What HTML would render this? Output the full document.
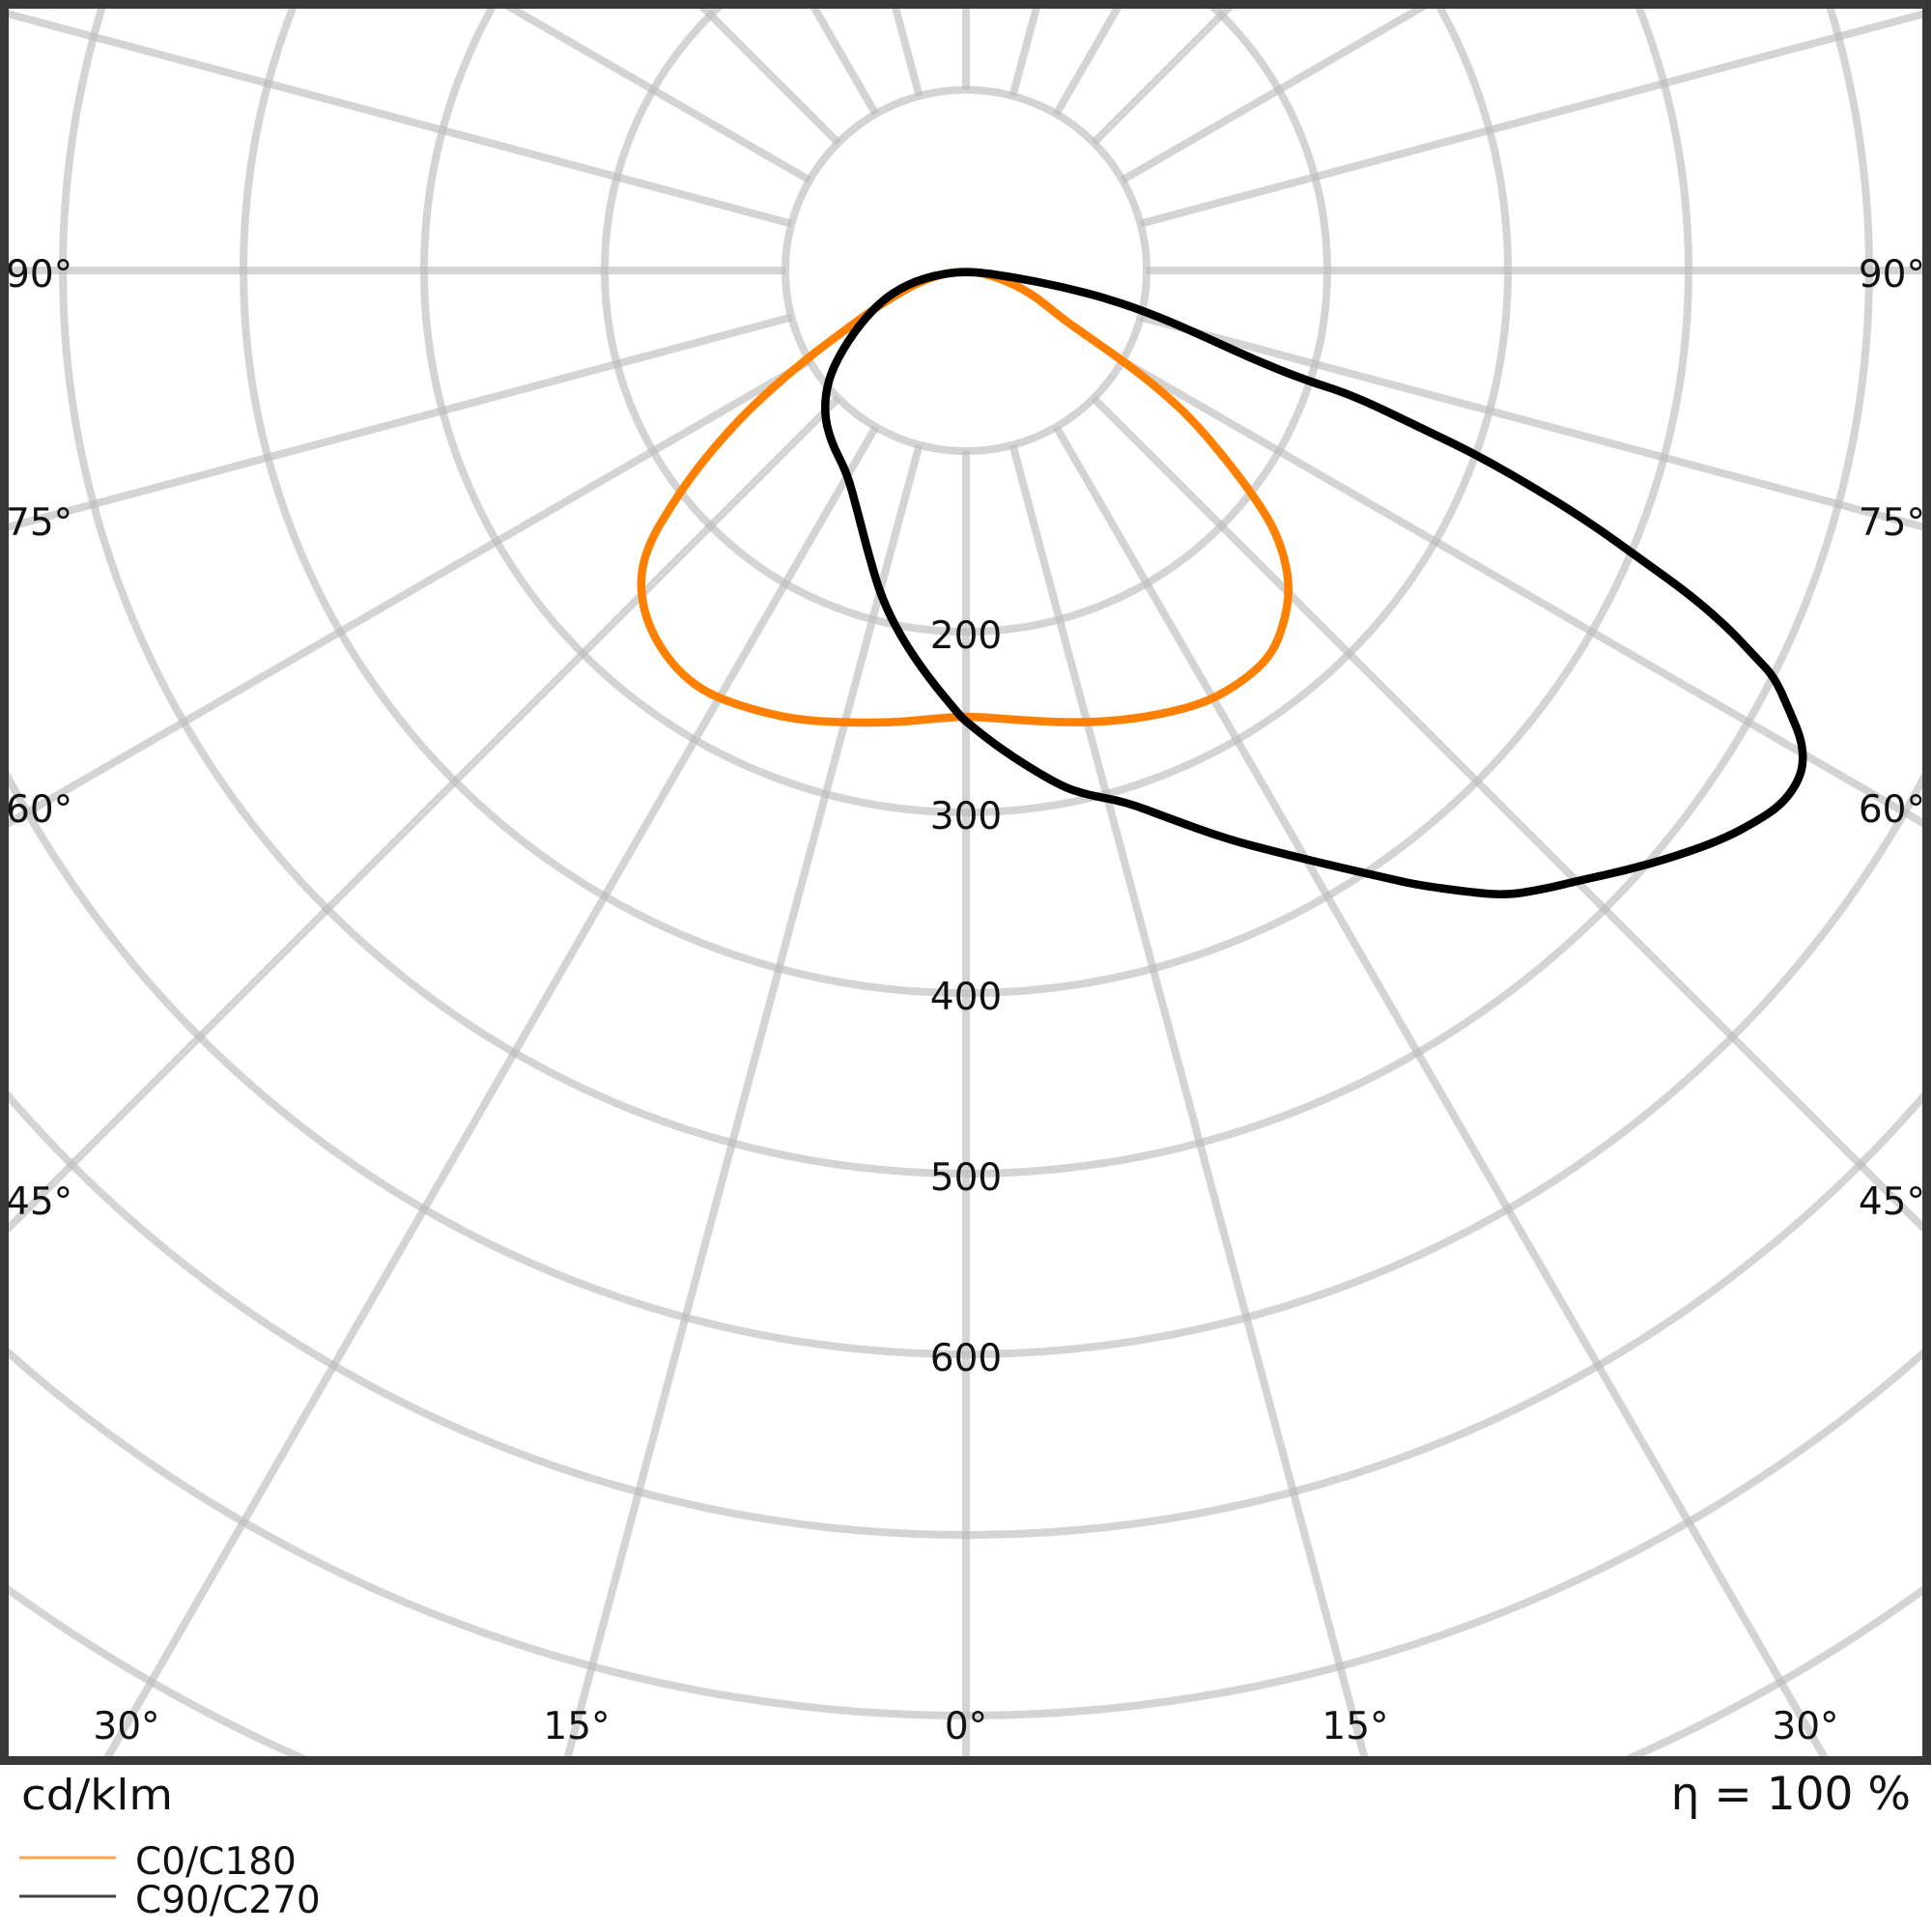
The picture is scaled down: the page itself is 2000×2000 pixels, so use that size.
<!DOCTYPE html>
<html>
<head>
<meta charset="utf-8">
<style>
  html, body { margin: 0; padding: 0; background: #ffffff; width: 2000px; height: 2000px; overflow: hidden; }
  svg { display: block; }
  text { font-family: "DejaVu Sans", "Liberation Sans", sans-serif; fill: #111111; }
</style>
</head>
<body>
<svg width="2000" height="2000" viewBox="0 0 2000 2000" xmlns="http://www.w3.org/2000/svg">
  <defs>
    <clipPath id="plotclip">
      <rect x="9" y="9" width="1981" height="1809"/>
    </clipPath>
  </defs>
  <rect x="0" y="0" width="2000" height="2000" fill="#ffffff"/>

  <g clip-path="url(#plotclip)">
    <!-- grid rings -->
    <g fill="none" stroke="rgb(190,190,190)" stroke-opacity="0.66" stroke-width="8">
      <circle cx="1000" cy="280" r="187"/>
      <circle cx="1000" cy="280" r="374"/>
      <circle cx="1000" cy="280" r="561"/>
      <circle cx="1000" cy="280" r="748"/>
      <circle cx="1000" cy="280" r="935"/>
      <circle cx="1000" cy="280" r="1122"/>
      <circle cx="1000" cy="280" r="1309"/>
      <circle cx="1000" cy="280" r="1496"/>
      <path d="M 5,1643 A 1683 1683 0 0 0 317,1822"/>
      <path d="M 1683,1822 A 1683 1683 0 0 0 1995,1643"/>
    </g>
    <!-- radial lines -->
    <g stroke="rgb(190,190,190)" stroke-opacity="0.66" stroke-width="8">
      <line x1="1000" y1="467" x2="1000" y2="1826" transform="rotate(0 1000 280)"/>
      <line x1="1000" y1="467" x2="1000" y2="1880" transform="rotate(15 1000 280)"/>
      <line x1="1000" y1="467" x2="1000" y2="2064" transform="rotate(30 1000 280)"/>
      <line x1="1000" y1="467" x2="1000" y2="1700" transform="rotate(45 1000 280)"/>
      <line x1="1000" y1="467" x2="1000" y2="1440" transform="rotate(60 1000 280)"/>
      <line x1="1000" y1="467" x2="1000" y2="1320" transform="rotate(75 1000 280)"/>
      <line x1="1000" y1="467" x2="1000" y2="1284" transform="rotate(90 1000 280)"/>
      <line x1="1000" y1="467" x2="1000" y2="1320" transform="rotate(105 1000 280)"/>
      <line x1="1000" y1="467" x2="1000" y2="845" transform="rotate(120 1000 280)"/>
      <line x1="1000" y1="467" x2="1000" y2="680" transform="rotate(135 1000 280)"/>
      <line x1="1000" y1="467" x2="1000" y2="608" transform="rotate(150 1000 280)"/>
      <line x1="1000" y1="467" x2="1000" y2="575" transform="rotate(165 1000 280)"/>
      <line x1="1000" y1="467" x2="1000" y2="565" transform="rotate(180 1000 280)"/>
      <line x1="1000" y1="467" x2="1000" y2="575" transform="rotate(195 1000 280)"/>
      <line x1="1000" y1="467" x2="1000" y2="608" transform="rotate(210 1000 280)"/>
      <line x1="1000" y1="467" x2="1000" y2="680" transform="rotate(225 1000 280)"/>
      <line x1="1000" y1="467" x2="1000" y2="845" transform="rotate(240 1000 280)"/>
      <line x1="1000" y1="467" x2="1000" y2="1320" transform="rotate(255 1000 280)"/>
      <line x1="1000" y1="467" x2="1000" y2="1284" transform="rotate(270 1000 280)"/>
      <line x1="1000" y1="467" x2="1000" y2="1320" transform="rotate(285 1000 280)"/>
      <line x1="1000" y1="467" x2="1000" y2="1440" transform="rotate(300 1000 280)"/>
      <line x1="1000" y1="467" x2="1000" y2="1700" transform="rotate(315 1000 280)"/>
      <line x1="1000" y1="467" x2="1000" y2="2064" transform="rotate(330 1000 280)"/>
      <line x1="1000" y1="467" x2="1000" y2="1880" transform="rotate(345 1000 280)"/>
    </g>

    <!-- ring value labels -->
    <g font-size="39" text-anchor="middle">
      <text x="1000" y="671">200</text>
      <text x="1000" y="858">300</text>
      <text x="1000" y="1045">400</text>
      <text x="1000" y="1232">500</text>
      <text x="1000" y="1419">600</text>
    </g>

    <!-- angle labels -->
    <g font-size="39">
      <text x="6" y="297">90°</text>
      <text x="6" y="554">75°</text>
      <text x="6" y="851">60°</text>
      <text x="6" y="1257">45°</text>
      <text x="1993" y="297" text-anchor="end">90°</text>
      <text x="1993" y="554" text-anchor="end">75°</text>
      <text x="1993" y="851" text-anchor="end">60°</text>
      <text x="1993" y="1257" text-anchor="end">45°</text>
      <text x="131" y="1800" text-anchor="middle">30°</text>
      <text x="597" y="1800" text-anchor="middle">15°</text>
      <text x="1000" y="1800" text-anchor="middle">0°</text>
      <text x="1403" y="1800" text-anchor="middle">15°</text>
      <text x="1869" y="1800" text-anchor="middle">30°</text>
    </g>

    <!-- C0/C180 orange -->
    <path fill="none" stroke="#ff8000" stroke-width="8.5" stroke-linejoin="round" stroke-linecap="round"
      d="M 978.5,283.5 Q 957,288 932,303 Q 907,318 890,330.5 Q 873,343 853,358 Q 833,373 811.5,391.5 Q 790,410 773.5,426.5 Q 757,443 740,463 Q 723,483 710,501.5 Q 697,520 685,540 Q 673,560 668,576.5 Q 663,593 664,610 Q 665,627 671,643.5 Q 677,660 688.5,676.5 Q 700,693 715,705 Q 730,717 751.5,725 Q 773,733 798,739 Q 823,745 848,746.5 Q 873,748 898,748 Q 923,748 940,746.5 Q 957,745 973.5,743.5 Q 990,742 1000,742 Q 1010,742 1030,743.5 Q 1050,745 1075,746.5 Q 1100,748 1125,747.5 Q 1150,747 1175,743.5 Q 1200,740 1225,733.5 Q 1250,727 1270,715 Q 1290,703 1303.5,690 Q 1317,677 1323.5,660 Q 1330,643 1332.5,626.5 Q 1335,610 1332.5,593.5 Q 1330,577 1323.5,560 Q 1317,543 1305,525 Q 1293,507 1280,490 Q 1267,473 1250,453 Q 1233,433 1216.5,418 Q 1200,403 1183.5,390 Q 1167,377 1150,365 Q 1133,353 1116.5,341.5 Q 1100,330 1083.5,316.5 Q 1067,303 1050,295 Q 1033,287 1016.5,283 Q 1000,279 978.5,283.5 Z"/>

    <!-- C90/C270 black -->
    <path fill="none" stroke="#000000" stroke-width="8.5" stroke-linejoin="round" stroke-linecap="round"
      d="M 1025,283.5 Q 1050,287 1075,292 Q 1100,297 1125,303.5 Q 1150,310 1175,319 Q 1200,328 1225,339 Q 1250,350 1275,361.5 Q 1300,373 1325,383 Q 1350,393 1375,401 Q 1400,409 1433.5,425 Q 1467,441 1500,457 Q 1533,473 1566.5,492.5 Q 1600,512 1625,528 Q 1650,544 1675,562 Q 1700,580 1725,598 Q 1750,616 1770,633.5 Q 1790,651 1803.5,665.5 Q 1817,680 1827,690.5 Q 1837,701 1845,719 Q 1853,737 1859,751.5 Q 1865,766 1866,778.5 Q 1867,791 1863.5,801.5 Q 1860,812 1851.5,823 Q 1843,834 1830,842.5 Q 1817,851 1800,860 Q 1783,869 1758,878 Q 1733,887 1708,894 Q 1683,901 1658,906.5 Q 1633,912 1616.5,916 Q 1600,920 1579.5,923.5 Q 1559,927 1538,925 Q 1517,923 1492,919.5 Q 1467,916 1453.5,913 Q 1440,910 1411.5,903.5 Q 1383,897 1354,890 Q 1325,883 1296.5,875.5 Q 1268,868 1239,857.5 Q 1210,847 1187.5,838.5 Q 1165,830 1145.5,826.5 Q 1126,823 1111,818 Q 1096,813 1067,795 Q 1038,777 1019,762 Q 1000,747 996.5,743.5 Q 993,740 976.5,720 Q 960,700 946.5,680 Q 933,660 923,640 Q 913,620 906.5,598.5 Q 900,577 893.5,552 Q 887,527 882,508.5 Q 877,490 868.5,473.5 Q 860,457 856.5,442 Q 853,427 855,410 Q 857,393 865,376.5 Q 873,360 885,343.5 Q 897,327 910,315 Q 923,303 940,295 Q 957,287 978.5,283.5 Q 1000,280 1025,283.5 Z"/>
  </g>

  <!-- frame -->
  <rect x="4.5" y="4.5" width="1990" height="1818" fill="none" stroke="#383838" stroke-width="9"/>

  <!-- footer texts -->
  <text x="22" y="1873" font-size="44" textLength="157" lengthAdjust="spacingAndGlyphs">cd/klm</text>
  <text x="1978" y="1873" font-size="47" text-anchor="end">η = 100 %</text>

  <!-- legend -->
  <line x1="20" y1="1923" x2="120" y2="1923" stroke="#ffa64d" stroke-width="3"/>
  <text x="140" y="1940" font-size="39">C0/C180</text>
  <line x1="20" y1="1963" x2="120" y2="1963" stroke="#444444" stroke-width="3"/>
  <text x="140" y="1980" font-size="39">C90/C270</text>
</svg>
</body>
</html>
